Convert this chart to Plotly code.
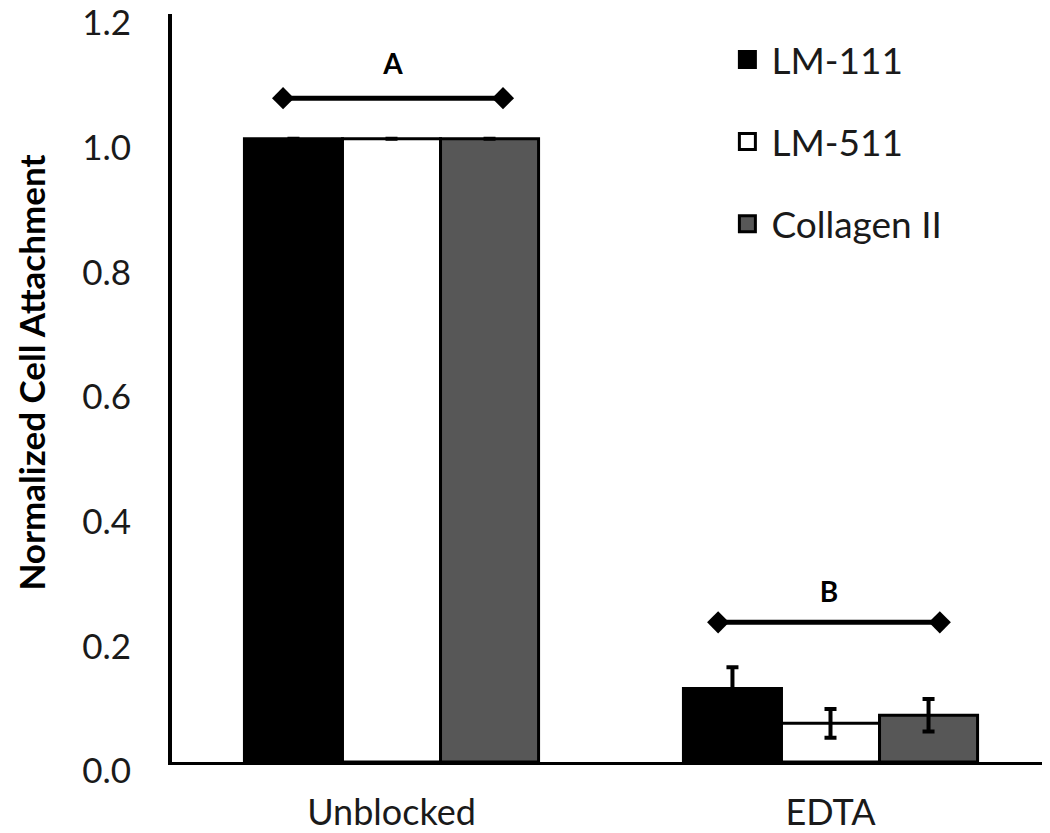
import plotly.graph_objects as go

categories = ["Unblocked", "EDTA"]
series_names = ["LM-111", "LM-511", "Collagen II"]
lm111 = [1.0, 0.118]
lm511 = [1.0, 0.062]
collagen = [1.0, 0.075]
lm111_err = [0.0, 0.034]
lm511_err = [0.0, 0.023]
collagen_err = [0.0, 0.026]
y_ticks = [0, 0.2, 0.4, 0.6, 0.8, 1.0, 1.2]
y_title = "Normalized Cell Attachment"

# significance brackets
sig_labels = ["A", "B"]
sig_x_left = [-0.247, 0.744]
sig_x_right = [0.254, 1.249]
sig_line_y = [1.065, 0.224]
sig_text_y = [1.115, 0.268]

fills = ["#000000", "#ffffff", "#575757"]
values = [lm111, lm511, collagen]
errs = [lm111_err, lm511_err, collagen_err]

font_family = "Lato, 'Open Sans', sans-serif"

fig = go.Figure()
for name, vals, err, col in zip(series_names, values, errs, fills):
    fig.add_trace(go.Bar(
        x=categories, y=vals, name=name,
        marker=dict(color=col, line=dict(color="#000000", width=3)),
        error_y=dict(type="data", array=err, visible=True, color="#000000",
                     thickness=4, width=6),
        showlegend=False,
    ))

# legend entries (larger square swatches)
for name, col in zip(series_names, fills):
    fig.add_trace(go.Scatter(
        x=[None], y=[None], mode="markers", name=name,
        marker=dict(symbol="square", size=16, color=col,
                    line=dict(color="#000000", width=3)),
        legendgroup=name, xaxis="x2",
    ))

for lab, xl, xr, yl, yt in zip(sig_labels, sig_x_left, sig_x_right, sig_line_y, sig_text_y):
    fig.add_trace(go.Scatter(
        x=[xl, xr], y=[yl, yl], mode="lines+markers",
        line=dict(color="#000000", width=5),
        marker=dict(symbol="diamond", size=17, color="#000000"),
        showlegend=False, hoverinfo="skip", xaxis="x2",
    ))
    fig.add_trace(go.Scatter(
        x=[(xl + xr) / 2], y=[yt], mode="text", text=[lab],
        textfont=dict(size=28, family=font_family, color="#000000", weight="bold"),
        showlegend=False, hoverinfo="skip", xaxis="x2",
    ))

fig.update_layout(
    width=1042, height=825,
    paper_bgcolor="white", plot_bgcolor="white",
    margin=dict(l=164, r=0, t=6, b=71),
    barmode="group", bargap=0.33, bargroupgap=0,
    font=dict(family=font_family, size=37, color="#1a1a1a"),
    xaxis=dict(range=[-0.5, 1.5], showline=True, linecolor="#000000", linewidth=3,
               ticks="", showgrid=False, zeroline=False, ticklabelstandoff=17,
               automargin=False, tickfont=dict(size=36, color="#1a1a1a")),
    xaxis2=dict(range=[-0.5, 1.5], overlaying="x", visible=False),
    yaxis=dict(range=[0, 1.2], tickvals=y_ticks,
               tickformat=".1f", showline=True, ticklabeloverflow="allow",
               linecolor="#000000", linewidth=4, ticks="", showgrid=False,
               zeroline=False, ticklabelstandoff=30, ticklabelshift=9,
               automargin=False,
               tickfont=dict(size=35, color="#1a1a1a")),
    legend=dict(x=0.628, y=0.98, xanchor="left", yanchor="top",
                bgcolor="rgba(0,0,0,0)", font=dict(size=37, color="#1a1a1a"),
                tracegroupgap=31, itemwidth=38),
    showlegend=True,
    annotations=[dict(text="<b>" + y_title + "</b>", xref="paper", yref="paper",
                      x=-0.16, y=0.52, xanchor="center", yanchor="middle",
                      textangle=-90, showarrow=False,
                      font=dict(size=35, color="#000000", family=font_family))],
)

fig.write_html("out.html")
